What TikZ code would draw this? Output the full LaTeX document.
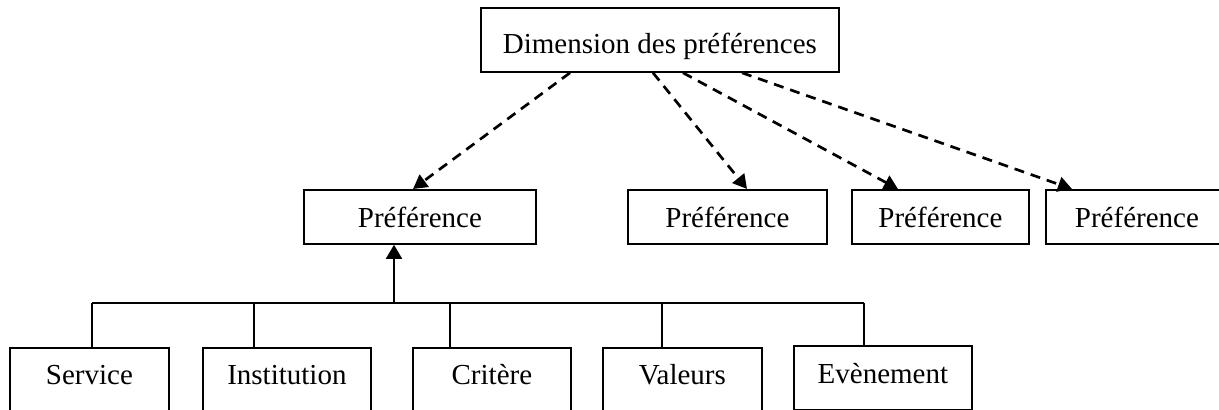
\documentclass[tikz,border=0pt]{standalone}
\usepackage{fontspec}
\setmainfont{Liberation Serif}
\usetikzlibrary{arrows.meta}
\begin{document}
\begin{tikzpicture}[x=0.5pt,y=-0.5pt,
  box/.style={draw, line width=0.9pt, inner sep=0pt, anchor=north west, font=\fontsize{14.5}{17}\selectfont},
  prefbox/.style={box, text height=19pt, text depth=8pt},
  leafbox/.style={box, text height=18.5pt, text depth=28pt},
  dasharrow/.style={line width=1.35pt, dash pattern=on 5pt off 3.5pt, -{Triangle[length=7pt,width=7.5pt]}},
  link/.style={line width=0.9pt},
  ]
\useasboundingbox (0,0) rectangle (1219,410);
\clip (0,0) rectangle (1219,410);
% top
\node[box, minimum width=179pt, text height=23pt, text depth=9pt] (top) at (480,7) {Dimension des préférences};
% preferences
\node[prefbox, minimum width=116pt] (p1) at (303,189) {Préférence};
\node[prefbox, minimum width=99.5pt] (p2) at (627,189) {Préférence};
\node[prefbox, minimum width=88.5pt] (p3) at (851,189) {Préférence};
\node[prefbox, minimum width=91pt] (p4) at (1045,189) {Préférence};
% leaves
\node[leafbox, minimum width=79.5pt] (s) at (9,347) {Service};
\node[leafbox, minimum width=84pt] (i) at (202,347) {Institution};
\node[leafbox, minimum width=79pt] (c) at (412,347) {Critère};
\node[leafbox, minimum width=79.5pt] (v) at (602,347) {Valeurs};
\node[box, minimum width=89pt, text height=19pt, text depth=13pt] (e) at (793,345) {Evènement};
% dashed arrows
\draw[dasharrow] ([xshift=45pt]top.south west) -- ([xshift=55pt]p1.north west);
\draw[dasharrow] ([xshift=86.5pt]top.south west) -- ([xshift=60pt]p2.north west);
\draw[dasharrow] ([xshift=101.5pt]top.south west) -- ([xshift=23.5pt]p3.north west);
\draw[dasharrow] ([xshift=131pt]top.south west) -- ([xshift=13.5pt]p4.north west);
% bus
\coordinate (d1) at (92,303);
\coordinate (d2) at (254,303);
\coordinate (up) at (394,303);
\coordinate (d3) at (450,303);
\coordinate (d4) at (662,303);
\coordinate (d5) at (864,303);
\draw[link] (d1) -- (d5);
\draw[link] (d1) -- (d1 |- s.north);
\draw[link] (d2) -- (d2 |- i.north);
\draw[link] (d3) -- (d3 |- c.north);
\draw[link] (d4) -- (d4 |- v.north);
\draw[link] (d5) -- (d5 |- e.north);
\draw[link, -{Triangle[length=7pt,width=8pt]}] (up) -- (up |- p1.south);
\end{tikzpicture}
\end{document}
